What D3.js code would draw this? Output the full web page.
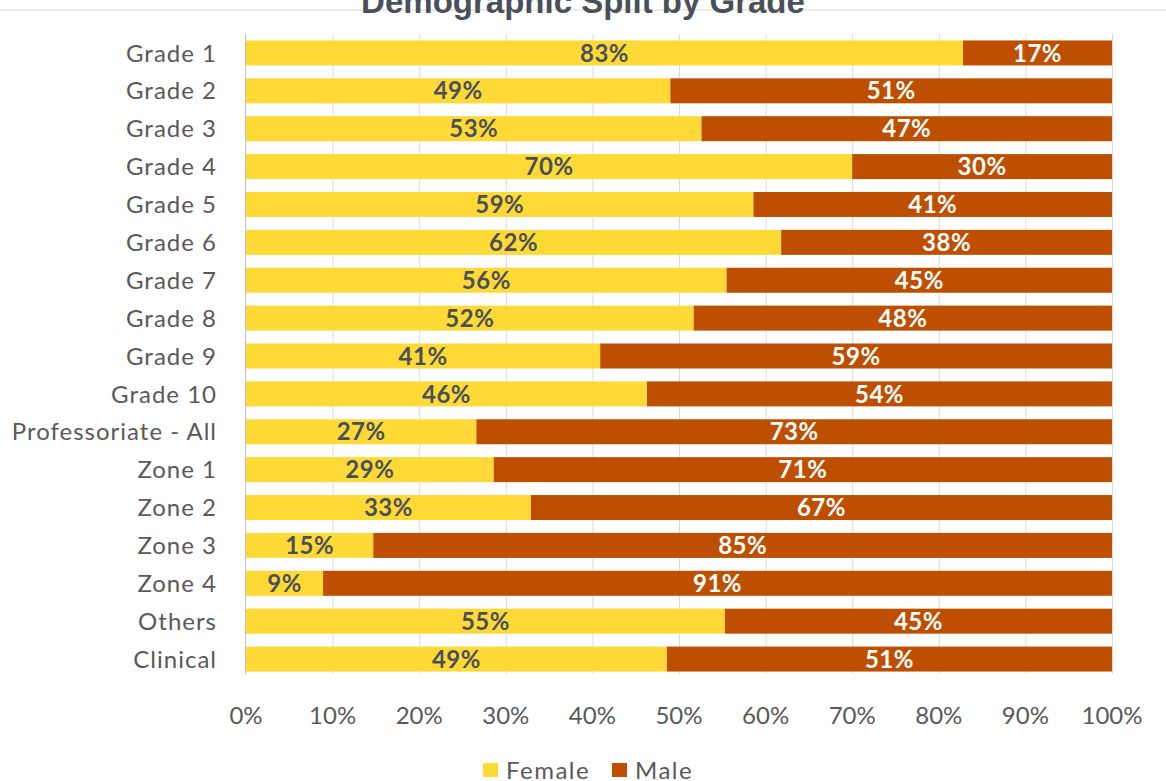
<!DOCTYPE html>
<html>
<head>
<meta charset="utf-8">
<script src="https://cdn.jsdelivr.net/npm/d3@7/dist/d3.min.js"></script>
<style>
  html, body { margin: 0; padding: 0; background: #fff; }
  svg { display: block; }
  .cat-label, .tick-label, .legend-label { font-family: Lato, "Open Sans", sans-serif; fill: #595959; }
  .bar-label { font-family: Lato, "Open Sans", sans-serif; font-weight: 700; }
</style>
</head>
<body>
<svg id="chart" width="1166" height="781"></svg>
<script>
const categories = [
  "Grade 1", "Grade 2", "Grade 3", "Grade 4", "Grade 5", "Grade 6", "Grade 7",
  "Grade 8", "Grade 9", "Grade 10", "Professoriate - All", "Zone 1", "Zone 2",
  "Zone 3", "Zone 4", "Others", "Clinical"
];
const femaleShare = [82.8, 49.0, 52.6, 70.0, 58.6, 61.8, 55.5, 51.7, 40.9, 46.3, 26.6, 28.6, 32.9, 14.7, 8.9, 55.3, 48.6];
const maleShare = [17.2, 51.0, 47.4, 30.0, 41.4, 38.2, 44.6, 48.3, 59.1, 53.7, 73.4, 71.4, 67.1, 85.3, 91.1, 44.7, 51.4];
const xTicks = [0, 10, 20, 30, 40, 50, 60, 70, 80, 90, 100];
const seriesNames = ["Female", "Male"];
const seriesColors = ["#FFDA36", "#BF4F00"];
const labelColors = ["#4A5059", "#FFFFFF"];

const svg = d3.select("#chart");
const width = 1166;
const plotLeft = 246;
const plotRight = 1112;
const plotTop = 34;
const plotBottom = 674;

// thin rule across the top, title sits over it
svg.append("line")
  .attr("x1", 0).attr("x2", width)
  .attr("y1", 10).attr("y2", 10)
  .attr("stroke", "#d9d9d9").attr("stroke-width", 1);

svg.append("text")
  .attr("x", 583).attr("y", 13)
  .attr("text-anchor", "middle")
  .attr("font-family", "Liberation Sans, Arial, sans-serif")
  .attr("font-weight", 700)
  .attr("font-size", 33)
  .attr("fill", "#4A5059")
  .text("Demographic Split by Grade");

const x = d3.scaleLinear().domain([0, 100]).range([plotLeft, plotRight]);
const y = d3.scaleBand().domain(categories).range([34, 678]).paddingInner(0.34).paddingOuter(0.17);

// gridlines
svg.append("g")
  .selectAll("line")
  .data(xTicks.slice(1))
  .join("line")
  .attr("x1", (d) => x(d) + 0.5).attr("x2", (d) => x(d) + 0.5)
  .attr("y1", plotTop).attr("y2", plotBottom)
  .attr("stroke", "#d9d9d9").attr("stroke-width", 1);

const rows = categories.map((name, i) => ({
  name,
  segments: [
    { series: 0, start: 0, value: femaleShare[i] },
    { series: 1, start: femaleShare[i], value: maleShare[i] },
  ],
}));

const rowGroups = svg.append("g")
  .selectAll("g")
  .data(rows)
  .join("g")
  .attr("transform", (d) => `translate(0, ${y(d.name)})`);

rowGroups.selectAll("rect")
  .data((d) => d.segments)
  .join("rect")
  .attr("x", (d) => x(d.start))
  .attr("width", (d) => x(Math.min(100, d.start + d.value)) - x(d.start))
  .attr("height", y.bandwidth())
  .attr("fill", (d) => seriesColors[d.series]);

rowGroups.selectAll("text.bar-label")
  .data((d) => d.segments)
  .join("text")
  .attr("class", "bar-label")
  .attr("x", (d) => (x(d.start) + x(Math.min(100, d.start + d.value))) / 2)
  .attr("y", y.bandwidth() / 2)
  .attr("dy", "0.36em")
  .attr("text-anchor", "middle")
  .attr("font-size", 24)
  .attr("letter-spacing", 0.5)
  .attr("fill", (d) => labelColors[d.series])
  .text((d) => `${Math.round(d.value)}%`);

// left axis line
svg.append("line")
  .attr("x1", plotLeft - 0.5).attr("x2", plotLeft - 0.5)
  .attr("y1", plotTop).attr("y2", plotBottom)
  .attr("stroke", "#bfbfbf").attr("stroke-width", 1);

// category labels
svg.append("g")
  .selectAll("text")
  .data(categories)
  .join("text")
  .attr("class", "cat-label")
  .attr("x", 217)
  .attr("y", (d) => y(d) + y.bandwidth() / 2)
  .attr("dy", "0.36em")
  .attr("text-anchor", "end")
  .attr("font-size", 24)
  .attr("letter-spacing", 1)
  .text((d) => d);

// x tick labels
svg.append("g")
  .selectAll("text")
  .data(xTicks)
  .join("text")
  .attr("class", "tick-label")
  .attr("x", (d) => x(d))
  .attr("y", 715)
  .attr("dy", "0.36em")
  .attr("text-anchor", "middle")
  .attr("font-size", 24)
  .text((d) => `${d}%`);

// legend
const legendItems = [
  { name: seriesNames[0], color: seriesColors[0], x: 483 },
  { name: seriesNames[1], color: seriesColors[1], x: 612 },
];
const legend = svg.append("g")
  .selectAll("g")
  .data(legendItems)
  .join("g")
  .attr("transform", (d) => `translate(${d.x}, 770)`);

legend.append("rect")
  .attr("x", 0).attr("y", -7)
  .attr("width", 15).attr("height", 14)
  .attr("fill", (d) => d.color);

legend.append("text")
  .attr("class", "legend-label")
  .attr("x", 23)
  .attr("dy", "0.36em")
  .attr("font-size", 24)
  .attr("letter-spacing", 1.5)
  .text((d) => d.name);
</script>
</body>
</html>
